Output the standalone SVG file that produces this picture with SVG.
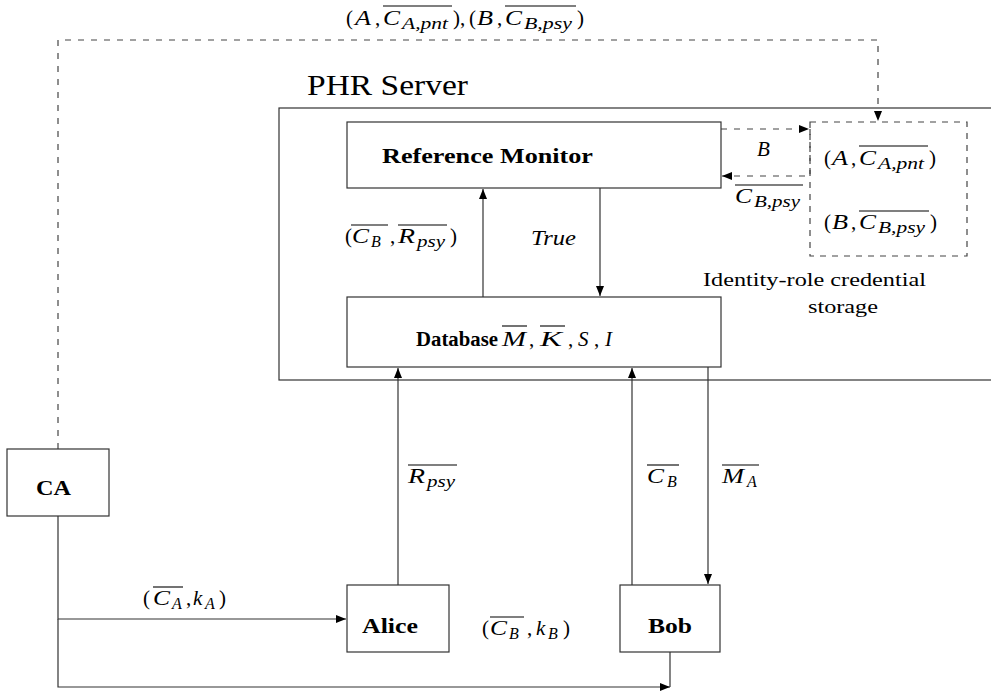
<svg xmlns="http://www.w3.org/2000/svg" width="991" height="693" viewBox="0 0 991 693">
  <defs>
    <marker id="arrow" viewBox="0 0 10 8" refX="10" refY="4" markerWidth="10" markerHeight="8" markerUnits="userSpaceOnUse" orient="auto">
      <path d="M0,0 L10,4 L0,8 z" fill="#000"/>
    </marker>
    <style>
      .box { fill: #fff; stroke: #333; stroke-width: 1.2; }
      .dbox { fill: none; stroke: #444; stroke-width: 1.2; stroke-dasharray: 6 6; }
      .wire { fill: none; stroke: #333; stroke-width: 1.2; }
      .dash { fill: none; stroke: #444; stroke-width: 1.2; stroke-dasharray: 6 7; }
      .arr { marker-end: url(#arrow); }
      .ol { stroke: #000; stroke-width: 1.1; }
      text { font-family: "Liberation Serif", "DejaVu Serif", serif; fill: #000; }
      .t { font-size: 21px; }
      .mi { font-size: 21px; font-style: italic; }
      .si { font-size: 16px; font-style: italic; }
      .bold { font-size: 20px; font-weight: bold; }
    </style>
  </defs>

  <!-- PHR server frame -->
  <g id="phr-server">
    <rect class="box" x="279" y="108" width="730" height="272"/>
    <text x="307" y="95" font-size="29" textLength="161" lengthAdjust="spacingAndGlyphs">PHR Server</text>
  </g>

  <!-- connectors -->
  <g id="connectors">
    <!-- CA to credential storage (dashed) -->
    <path class="dash arr" d="M58,449 V40 H878 V121"/>
    <!-- reference monitor <-> credential storage -->
    <path class="dash arr" d="M721,129 H809"/>
    <path class="dash arr" d="M810,129 V176 H722"/>
    <!-- reference monitor / database -->
    <path class="wire arr" d="M483,297 V189"/>
    <path class="wire arr" d="M600,188 V296"/>
    <!-- Alice / Bob to database -->
    <path class="wire arr" d="M398,585 V368"/>
    <path class="wire arr" d="M632,585 V368"/>
    <path class="wire arr" d="M708,367 V584"/>
    <!-- CA to Alice and Bob -->
    <path class="wire arr" d="M58,516 V619 H346"/>
    <path class="wire arr" d="M58,619 V687 H670"/>
    <path class="wire" d="M670,652 V687"/>
  </g>

  <g id="reference-monitor">
    <rect class="box" x="347" y="122" width="374" height="66"/>
    <text class="bold" x="382" y="163" textLength="211" lengthAdjust="spacingAndGlyphs">Reference Monitor</text>
  </g>

  <g id="database">
    <rect class="box" x="347" y="297" width="374" height="70"/>
    <text class="bold" x="416" y="346" textLength="82" lengthAdjust="spacingAndGlyphs">Database</text>
    <text class="mi" x="502" y="346" textLength="24" lengthAdjust="spacingAndGlyphs">M</text>
    <line class="ol" x1="502" y1="326" x2="527" y2="326"/>
    <text class="t" x="529" y="346">,</text>
    <text class="mi" x="540" y="346" textLength="22" lengthAdjust="spacingAndGlyphs">K</text>
    <line class="ol" x1="540" y1="326" x2="565" y2="326"/>
    <text class="t" x="568" y="346">,</text>
    <text class="mi" x="578" y="346">S</text>
    <text class="t" x="594" y="346">,</text>
    <text class="mi" x="605" y="346">I</text>
  </g>

  <g id="credential-storage">
    <rect class="dbox" x="810" y="122" width="157" height="134"/>
    <text class="t" x="824" y="165">(</text>
    <text class="mi" x="832" y="165" textLength="16" lengthAdjust="spacingAndGlyphs">A</text>
    <text class="t" x="851" y="165">,</text>
    <text class="mi" x="859" y="165" textLength="17" lengthAdjust="spacingAndGlyphs">C</text>
    <text class="si" x="878" y="169" textLength="46" lengthAdjust="spacingAndGlyphs">A,pnt</text>
    <line class="ol" x1="859" y1="146" x2="928" y2="146"/>
    <text class="t" x="929" y="165">)</text>

    <text class="t" x="824" y="229">(</text>
    <text class="mi" x="832" y="229" textLength="16" lengthAdjust="spacingAndGlyphs">B</text>
    <text class="t" x="851" y="229">,</text>
    <text class="mi" x="859" y="229" textLength="17" lengthAdjust="spacingAndGlyphs">C</text>
    <text class="si" x="878" y="233" textLength="47" lengthAdjust="spacingAndGlyphs">B,psy</text>
    <line class="ol" x1="859" y1="211" x2="929" y2="211"/>
    <text class="t" x="930" y="229">)</text>

    <text x="703" y="286" font-size="18" textLength="223" lengthAdjust="spacingAndGlyphs">Identity-role credential</text>
    <text x="808" y="313" font-size="18" textLength="70" lengthAdjust="spacingAndGlyphs">storage</text>
  </g>

  <g id="ca">
    <rect class="box" x="7" y="449" width="102" height="67"/>
    <text class="bold" x="36" y="495" textLength="35" lengthAdjust="spacingAndGlyphs">CA</text>
  </g>

  <g id="alice">
    <rect class="box" x="347" y="585" width="102" height="67"/>
    <text class="bold" x="362" y="633" textLength="56" lengthAdjust="spacingAndGlyphs">Alice</text>
  </g>

  <g id="bob">
    <rect class="box" x="620" y="585" width="100" height="67"/>
    <text class="bold" x="648" y="633" textLength="44" lengthAdjust="spacingAndGlyphs">Bob</text>
  </g>

  <!-- message labels -->
  <g id="labels">
    <!-- (A, C_A,pnt), (B, C_B,psy) -->
    <text class="t" x="346" y="25">(</text>
    <text class="mi" x="355" y="25" textLength="16" lengthAdjust="spacingAndGlyphs">A</text>
    <text class="t" x="375" y="25">,</text>
    <text class="mi" x="383" y="25" textLength="17" lengthAdjust="spacingAndGlyphs">C</text>
    <text class="si" x="402" y="29" textLength="46" lengthAdjust="spacingAndGlyphs">A,pnt</text>
    <line class="ol" x1="383" y1="6" x2="452" y2="6"/>
    <text class="t" x="453" y="25">),</text>
    <text class="t" x="469" y="25">(</text>
    <text class="mi" x="477" y="25" textLength="16" lengthAdjust="spacingAndGlyphs">B</text>
    <text class="t" x="497" y="25">,</text>
    <text class="mi" x="505" y="25" textLength="17" lengthAdjust="spacingAndGlyphs">C</text>
    <text class="si" x="524" y="29" textLength="48" lengthAdjust="spacingAndGlyphs">B,psy</text>
    <line class="ol" x1="505" y1="6" x2="576" y2="6"/>
    <text class="t" x="577" y="25">)</text>

    <!-- B / C_B,psy between monitor and storage -->
    <text class="mi" x="757" y="156">B</text>
    <text class="mi" x="735" y="203" textLength="17" lengthAdjust="spacingAndGlyphs">C</text>
    <text class="si" x="754" y="207" textLength="46" lengthAdjust="spacingAndGlyphs">B,psy</text>
    <line class="ol" x1="735" y1="185" x2="803" y2="185"/>

    <!-- (C_B, R_psy) -->
    <text class="t" x="345" y="243">(</text>
    <text class="mi" x="352" y="243" textLength="17" lengthAdjust="spacingAndGlyphs">C</text>
    <text class="si" x="371" y="247">B</text>
    <line class="ol" x1="351" y1="225" x2="388" y2="225"/>
    <text class="t" x="390" y="243">,</text>
    <text class="mi" x="398" y="243" textLength="17" lengthAdjust="spacingAndGlyphs">R</text>
    <text class="si" x="417" y="247" textLength="28" lengthAdjust="spacingAndGlyphs">psy</text>
    <line class="ol" x1="398" y1="225" x2="447" y2="225"/>
    <text class="t" x="450" y="243">)</text>

    <text class="mi" x="531" y="245" textLength="45" lengthAdjust="spacingAndGlyphs">True</text>

    <!-- R_psy, C_B, M_A -->
    <text class="mi" x="408" y="483" textLength="17" lengthAdjust="spacingAndGlyphs">R</text>
    <text class="si" x="427" y="487" textLength="28" lengthAdjust="spacingAndGlyphs">psy</text>
    <line class="ol" x1="408" y1="465" x2="457" y2="465"/>

    <text class="mi" x="647" y="483" textLength="17" lengthAdjust="spacingAndGlyphs">C</text>
    <text class="si" x="667" y="487">B</text>
    <line class="ol" x1="647" y1="465" x2="679" y2="465"/>

    <text class="mi" x="722" y="483" textLength="22" lengthAdjust="spacingAndGlyphs">M</text>
    <text class="si" x="747" y="487">A</text>
    <line class="ol" x1="722" y1="465" x2="759" y2="465"/>

    <!-- (C_A, k_A) -->
    <text class="t" x="143" y="605">(</text>
    <text class="mi" x="153" y="605" textLength="17" lengthAdjust="spacingAndGlyphs">C</text>
    <text class="si" x="172" y="609">A</text>
    <line class="ol" x1="153" y1="587" x2="183" y2="587"/>
    <text class="t" x="186" y="605">,</text>
    <text class="mi" x="193" y="605">k</text>
    <text class="si" x="205" y="609">A</text>
    <text class="t" x="219" y="605">)</text>

    <!-- (C_B, k_B) -->
    <text class="t" x="482" y="635">(</text>
    <text class="mi" x="490" y="635" textLength="17" lengthAdjust="spacingAndGlyphs">C</text>
    <text class="si" x="509" y="639">B</text>
    <line class="ol" x1="490" y1="617" x2="524" y2="617"/>
    <text class="t" x="527" y="635">,</text>
    <text class="mi" x="536" y="635">k</text>
    <text class="si" x="548" y="639">B</text>
    <text class="t" x="563" y="635">)</text>
  </g>
</svg>
